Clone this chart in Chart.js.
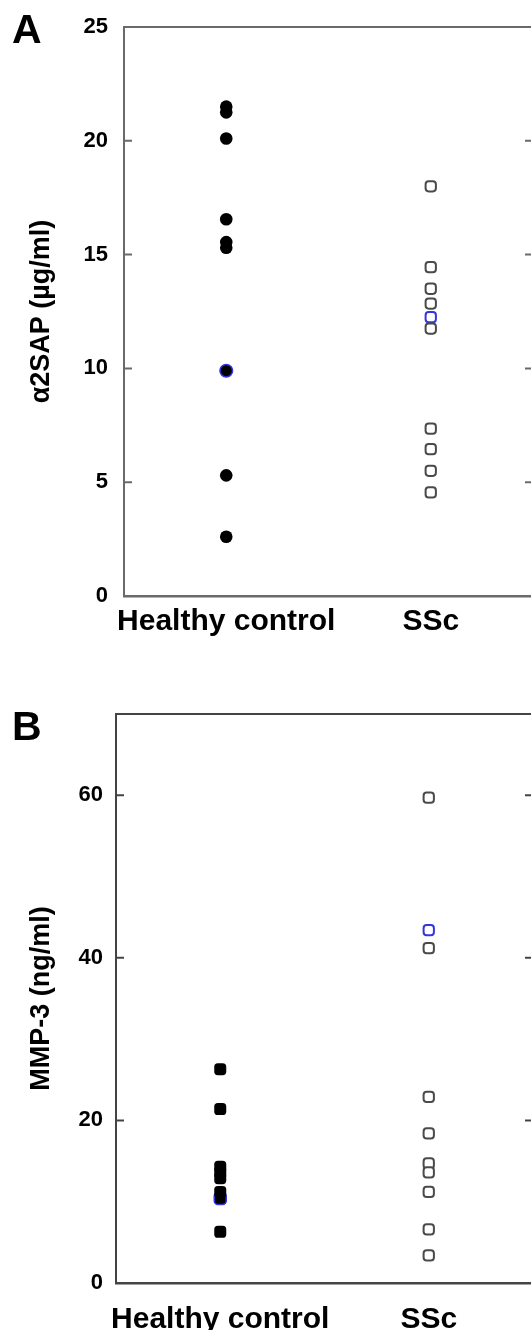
<!DOCTYPE html>
<html>
<head>
<meta charset="utf-8">
<script src="https://cdn.jsdelivr.net/npm/chart.js@4/dist/chart.umd.min.js"></script>
<style>
  html, body { margin: 0; padding: 0; background: #fff; overflow: hidden; width: 531px; height: 1330px; }
  .panel { position: absolute; left: 0; }
  .tag { position: absolute; left: 12px; font: bold 41px/40px "Liberation Sans", Arial, sans-serif; color: #000; }
</style>
</head>
<body>
<div class="panel" style="top:0"><canvas id="chartA" width="545" height="650"></canvas></div>
<div class="panel" style="top:650px"><canvas id="chartB" width="545" height="680"></canvas></div>
<div class="tag" style="top:9px">A</div>
<div class="tag" style="top:706px">B</div>

<script>
  "use strict";

  // ── Data ──────────────────────────────────────────────
  const groups = ["Healthy control", "SSc"];

  // panel A: α2SAP (µg/ml)
  const a2sapTicks = [0, 5, 10, 15, 20, 25];
  const a2sapHealthy = [21.5, 21.25, 20.1, 16.55, 15.55, 15.3, 5.3, 2.6];
  const a2sapHealthyMarked = [9.9];
  const a2sapSSc = [18.0, 14.45, 13.5, 12.85, 11.75, 7.35, 6.45, 5.5, 4.55];
  const a2sapSScMarked = [12.25];

  // panel B: MMP-3 (ng/ml)
  const mmpTicks = [0, 20, 40, 60];
  const mmpHealthy = [26.3, 21.4, 14.3, 13.6, 12.9, 11.2, 6.3];
  const mmpHealthyMarked = [10.4];
  const mmpSSc = [59.7, 41.2, 22.9, 18.4, 14.7, 13.6, 11.2, 6.6, 3.4];
  const mmpSScMarked = [43.4];

  // ── Styling ───────────────────────────────────────────
  const FONT = "'Liberation Sans', Arial, sans-serif";
  const BLUE = "#3434e0";

  const asPoints = (group, values) => values.map(v => ({ x: group, y: v }));

  // top/right frame plus inward tick marks on both sides
  const frameTicks = {
    id: "frameTicks",
    afterDatasetsDraw(chart, args, opts) {
      const { ctx, chartArea: { left, right, top, bottom } } = chart;
      const ys = chart.scales.y;
      ctx.save();
      ctx.strokeStyle = opts.color;
      ctx.lineWidth = opts.width;
      ctx.beginPath();
      ctx.moveTo(left, top);
      ctx.lineTo(right, top);
      ctx.lineTo(right, bottom);
      ctx.stroke();
      ys.ticks.forEach(t => {
        const py = ys.getPixelForValue(t.value);
        ctx.beginPath();
        ctx.moveTo(left, py);
        ctx.lineTo(left + opts.len, py);
        ctx.moveTo(right - opts.len, py);
        ctx.lineTo(right, py);
        ctx.stroke();
      });
      ctx.restore();
    }
  };

  function makePanel(id, p) {
    const healthyStyle = {
      pointStyle: p.healthyShape,
      pointRadius: p.healthyRadius,
      backgroundColor: "#000",
      borderColor: "#000",
      borderWidth: 0
    };
    const sscStyle = {
      pointStyle: "rectRounded",
      pointRadius: 6,
      backgroundColor: "#fff",
      borderColor: "#4a4a4a",
      borderWidth: 2
    };

    return new Chart(document.getElementById(id), {
      type: "scatter",
      data: {
        labels: groups,
        datasets: [
          { data: asPoints(groups[0], p.healthy), ...healthyStyle },
          { data: asPoints(groups[0], p.healthyMarked), ...healthyStyle, borderColor: BLUE, borderWidth: 1.5 },
          { data: asPoints(groups[1], p.ssc), ...sscStyle },
          { data: asPoints(groups[1], p.sscMarked), ...sscStyle, borderColor: BLUE }
        ]
      },
      options: {
        responsive: false,
        devicePixelRatio: 1,
        animation: false,
        events: [],
        layout: { padding: { top: p.top, right: 12, left: 0, bottom: 0 } },
        plugins: {
          legend: { display: false },
          tooltip: { enabled: false },
          frameTicks: { color: p.axisColor, width: 2, len: 8 }
        },
        scales: {
          x: {
            type: "category",
            labels: groups,
            offset: true,
            grid: { display: false, drawTicks: false },
            border: { display: true, color: p.axisColor, width: 2.5 },
            ticks: {
              color: "#000", padding: p.labelPad, autoSkip: false, maxRotation: 0, minRotation: 0,
              font: { family: FONT, size: 30, weight: "bold" }
            },
            afterFit: (s) => {
              s.height = p.xHeight;
              s.paddingLeft = 0;
              s.paddingRight = 0;
            }
          },
          y: {
            min: 0,
            max: p.max,
            grid: { display: false, drawTicks: false },
            border: { display: true, color: p.axisColor, width: 2 },
            afterBuildTicks: (s) => { s.ticks = p.ticks.map(v => ({ value: v })); },
            ticks: { color: "#000", padding: p.tickPad, font: { family: FONT, size: 22, weight: "bold" } },
            title: {
              display: true,
              text: p.title,
              color: "#000",
              padding: { top: 25, bottom: 0 },
              font: { family: FONT, size: 27, weight: "bold" }
            },
            afterFit: (s) => {
              s.width = p.yWidth;
              s.paddingTop = 0;
              s.paddingBottom = 0;
            }
          }
        }
      },
      plugins: [frameTicks]
    });
  }

  makePanel("chartA", {
    title: "α2SAP (µg/ml)",
    healthy: a2sapHealthy, healthyMarked: a2sapHealthyMarked,
    ssc: a2sapSSc, sscMarked: a2sapSScMarked,
    ticks: a2sapTicks, max: 25,
    healthyShape: "circle", healthyRadius: 6.3,
    top: 27, yWidth: 124, xHeight: 54, tickPad: 16, labelPad: 8,
    axisColor: "#6a6a6a"
  });

  makePanel("chartB", {
    title: "MMP-3 (ng/ml)",
    healthy: mmpHealthy, healthyMarked: mmpHealthyMarked,
    ssc: mmpSSc, sscMarked: mmpSScMarked,
    ticks: mmpTicks, max: 70,
    healthyShape: "rectRounded", healthyRadius: 7,
    top: 64, yWidth: 116, xHeight: 47, tickPad: 13, labelPad: 19,
    axisColor: "#444"
  });
</script>
</body>
</html>
